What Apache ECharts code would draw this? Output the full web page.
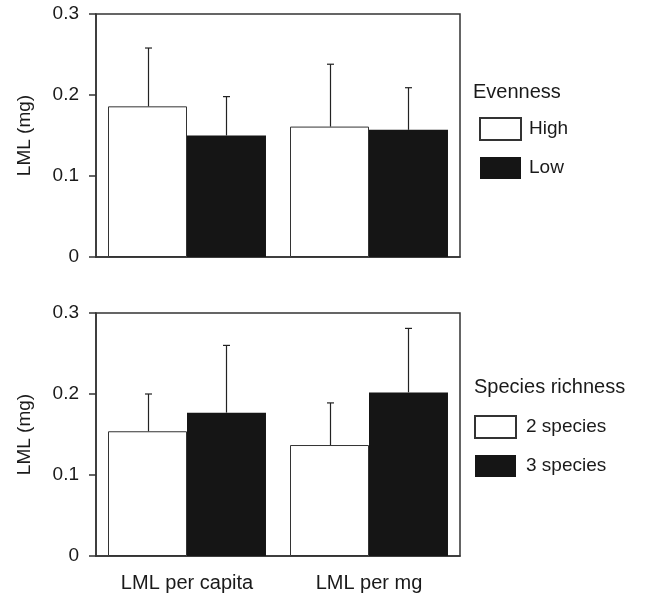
<!DOCTYPE html>
<html>
<head>
<meta charset="utf-8">
<script src="https://cdn.jsdelivr.net/npm/echarts@6/dist/echarts.min.js"></script>
<style>html,body{margin:0;padding:0;background:#fff}#c{width:651px;height:599px}</style>
</head>
<body>
<div id="c"></div>
<script>
var categories = ['LML per capita', 'LML per mg'];
var yTicks = [0, 0.1, 0.2, 0.3];
// Evenness panel
var highMean = [0.186, 0.161];
var highErr  = [0.072, 0.077];
var lowMean  = [0.150, 0.157];
var lowErr   = [0.048, 0.052];
// Species richness panel
var sp2Mean = [0.154, 0.137];
var sp2Err  = [0.046, 0.052];
var sp3Mean = [0.177, 0.202];
var sp3Err  = [0.083, 0.079];

var FONT = 'Liberation Sans, Arial, Helvetica, sans-serif';
var TXT = '#1a1a1a';
var BAR_FRAC = 0.434;

function errData(means, errs, sIdx) {
  return means.map(function (m, i) { return [i, m, m + errs[i], sIdx]; });
}
function errRender(params, api) {
  var cat = api.value(0), m = api.value(1), top = api.value(2), s = api.value(3);
  var band = api.size([1, 0])[0];
  var off = (s === 0 ? -1 : 1) * band * BAR_FRAC / 2;
  var p0 = api.coord([cat, m]), p1 = api.coord([cat, top]);
  var x = Math.round(p0[0] + off) + 0.5;
  var st = { stroke: '#222', lineWidth: 1.2 };
  return { type: 'group', children: [
    { type: 'line', shape: { x1: x, y1: p0[1], x2: x, y2: p1[1] }, style: st },
    { type: 'line', shape: { x1: x - 3.5, y1: p1[1], x2: x + 3.5, y2: p1[1] }, style: st }
  ]};
}
function yAxis(gi) {
  return {
    type: 'value', gridIndex: gi, min: 0, max: 0.3, interval: 0.1,
    name: 'LML (mg)', nameLocation: 'middle', nameGap: 62,
    nameTextStyle: { fontFamily: FONT, fontSize: 19, color: TXT },
    axisLine: { show: true, lineStyle: { color: '#333', width: 1.5 } },
    axisTick: { show: true, length: 7, lineStyle: { color: '#333', width: 1.5 } },
    axisLabel: { fontFamily: FONT, fontSize: 19, color: TXT, margin: 17,
      formatter: function (v) { return yTicks.indexOf(Math.round(v * 10) / 10) >= 0 ? String(Math.round(v * 10) / 10) : ''; } },
    splitLine: { show: false }
  };
}
function xAxis(gi, showLabel) {
  return {
    type: 'category', gridIndex: gi, data: categories,
    axisLine: { show: true, lineStyle: { color: '#333', width: 1.5 } },
    axisTick: { show: false },
    axisLabel: { show: showLabel, fontFamily: FONT, fontSize: 20, color: TXT, margin: 17 }
  };
}
var whiteStyle = { color: '#ffffff', borderColor: '#333', borderWidth: 1 };
var blackStyle = { color: '#151515', borderColor: '#151515', borderWidth: 0 };

var option = {
  animation: false,
  backgroundColor: '#fff',
  grid: [
    { left: 96, top: 14, width: 364, height: 243, show: true, borderColor: '#333', borderWidth: 1.5, backgroundColor: 'transparent' },
    { left: 96, top: 313, width: 364, height: 243, show: true, borderColor: '#333', borderWidth: 1.5, backgroundColor: 'transparent' }
  ],
  xAxis: [xAxis(0, false), xAxis(1, true)],
  yAxis: [yAxis(0), yAxis(1)],
  title: [
    { text: 'Evenness', left: 473, top: 81, padding: 0,
      textStyle: { fontFamily: FONT, fontSize: 20, fontWeight: 'normal', color: TXT, lineHeight: 22 } },
    { text: 'Species richness', left: 474, top: 376, padding: 0,
      textStyle: { fontFamily: FONT, fontSize: 20, fontWeight: 'normal', color: TXT, lineHeight: 22 } }
  ],
  legend: [
    { data: ['High', 'Low'], orient: 'vertical', left: 479, top: 117, padding: 0,
      itemWidth: 41, itemHeight: 22, itemGap: 16, icon: 'rect',
      textStyle: { fontFamily: FONT, fontSize: 19, color: TXT, padding: [0, 0, 0, 3] } },
    { data: ['2 species', '3 species'], orient: 'vertical', left: 474, top: 415, padding: 0,
      itemWidth: 41, itemHeight: 22, itemGap: 16, icon: 'rect',
      textStyle: { fontFamily: FONT, fontSize: 19, color: TXT, padding: [0, 0, 0, 5] } }
  ],
  series: [
    { name: 'High', type: 'bar', xAxisIndex: 0, yAxisIndex: 0, data: highMean, barWidth: (BAR_FRAC * 100) + '%', barGap: '0%', itemStyle: whiteStyle },
    { name: 'Low', type: 'bar', xAxisIndex: 0, yAxisIndex: 0, data: lowMean, barWidth: (BAR_FRAC * 100) + '%', barGap: '0%', itemStyle: blackStyle },
    { name: '2 species', type: 'bar', xAxisIndex: 1, yAxisIndex: 1, data: sp2Mean, barWidth: (BAR_FRAC * 100) + '%', barGap: '0%', itemStyle: whiteStyle },
    { name: '3 species', type: 'bar', xAxisIndex: 1, yAxisIndex: 1, data: sp3Mean, barWidth: (BAR_FRAC * 100) + '%', barGap: '0%', itemStyle: blackStyle },
    { type: 'custom', xAxisIndex: 0, yAxisIndex: 0, z: 5, renderItem: errRender,
      data: errData(highMean, highErr, 0).concat(errData(lowMean, lowErr, 1)) },
    { type: 'custom', xAxisIndex: 1, yAxisIndex: 1, z: 5, renderItem: errRender,
      data: errData(sp2Mean, sp2Err, 0).concat(errData(sp3Mean, sp3Err, 1)) }
  ]
};
echarts.init(document.getElementById('c'), null, { renderer: 'canvas' }).setOption(option);
</script>
</body>
</html>
